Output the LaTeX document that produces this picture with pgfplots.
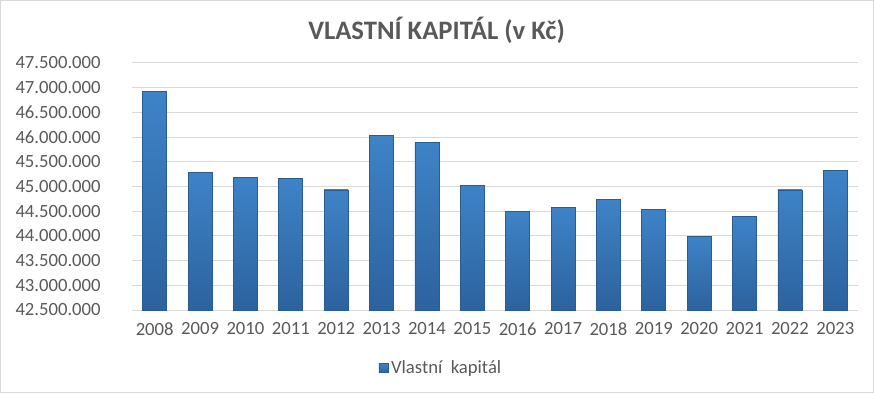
\documentclass[border=0pt]{standalone}
\usepackage{pgfplots}
\pgfplotsset{compat=1.18}
\usepackage{fontspec}
\setmainfont{Carlito}
\definecolor{txt}{RGB}{89,89,89}
\definecolor{gridc}{RGB}{217,217,217}
\definecolor{bedge}{RGB}{42,92,148}
\definecolor{btop}{RGB}{62,131,199}
\definecolor{bbot}{RGB}{44,98,158}
\pgfplotsset{mybar/.style={ybar, bar width=18pt, bar shift=0pt, top color=btop, bottom color=bbot, draw=bedge, line width=0.6pt}}
\begin{document}
\begin{tikzpicture}
\draw[gridc, line width=0.75pt] (0.375pt,0.375pt) rectangle (655.125pt,294.375pt);
\node[txt, font=\fontsize{20}{24}\selectfont\bfseries] at (327.4pt,272.25pt) {VLASTNÍ KAPITÁL (v Kč)};
\begin{axis}[
  at={(99pt,62.25pt)}, anchor=south west,
  scale only axis, width=544.5pt, height=185.25pt,
  xmin=-0.5, xmax=15.5, ymin=42500000, ymax=47500000,
  xtick={0,...,15},
  xticklabels={2008,2009,2010,2011,2012,2013,2014,2015,2016,2017,2018,2019,2020,2021,2022,2023},
  ytick={42500000,43000000,43500000,44000000,44500000,45000000,45500000,46000000,46500000,47000000,47500000},
  scaled y ticks=false,
  /pgf/number format/fixed, /pgf/number format/precision=0,
  /pgf/number format/1000 sep={.}, /pgf/number format/assume math mode=true,
  every tick label/.append style={font=\fontsize{14}{17}\selectfont, text=txt},
  every y tick label/.append style={xshift=-20pt},
  every x tick label/.append style={yshift=-6pt},
  major tick length=0pt,
  axis line style={draw=none},
  ymajorgrids, grid style={gridc, line width=0.75pt},
  legend style={at={(0.426,-0.235)}, anchor=center, draw=none, fill=none,
    font=\fontsize{14}{17}\selectfont, text=txt},
  legend image code/.code={\path[top color=btop, bottom color=bbot, draw=bedge, line width=0.4pt] (0pt,-3.5pt) rectangle (7pt,3.5pt);},
]
\addplot[mybar] coordinates {(0,46930000)};
\addlegendentry{Vlastní\ \ kapitál}
\addplot[mybar, forget plot] coordinates {(1,45290000)};
\addplot[mybar, forget plot] coordinates {(2,45190000)};
\addplot[mybar, forget plot] coordinates {(3,45170000)};
\addplot[mybar, forget plot] coordinates {(4,44930000)};
\addplot[mybar, forget plot] coordinates {(5,46040000)};
\addplot[mybar, forget plot] coordinates {(6,45900000)};
\addplot[mybar, forget plot] coordinates {(7,45030000)};
\addplot[mybar, forget plot] coordinates {(8,44500000)};
\addplot[mybar, forget plot] coordinates {(9,44580000)};
\addplot[mybar, forget plot] coordinates {(10,44740000)};
\addplot[mybar, forget plot] coordinates {(11,44540000)};
\addplot[mybar, forget plot] coordinates {(12,43990000)};
\addplot[mybar, forget plot] coordinates {(13,44400000)};
\addplot[mybar, forget plot] coordinates {(14,44930000)};
\addplot[mybar, forget plot] coordinates {(15,45330000)};
\end{axis}
\end{tikzpicture}
\end{document}
